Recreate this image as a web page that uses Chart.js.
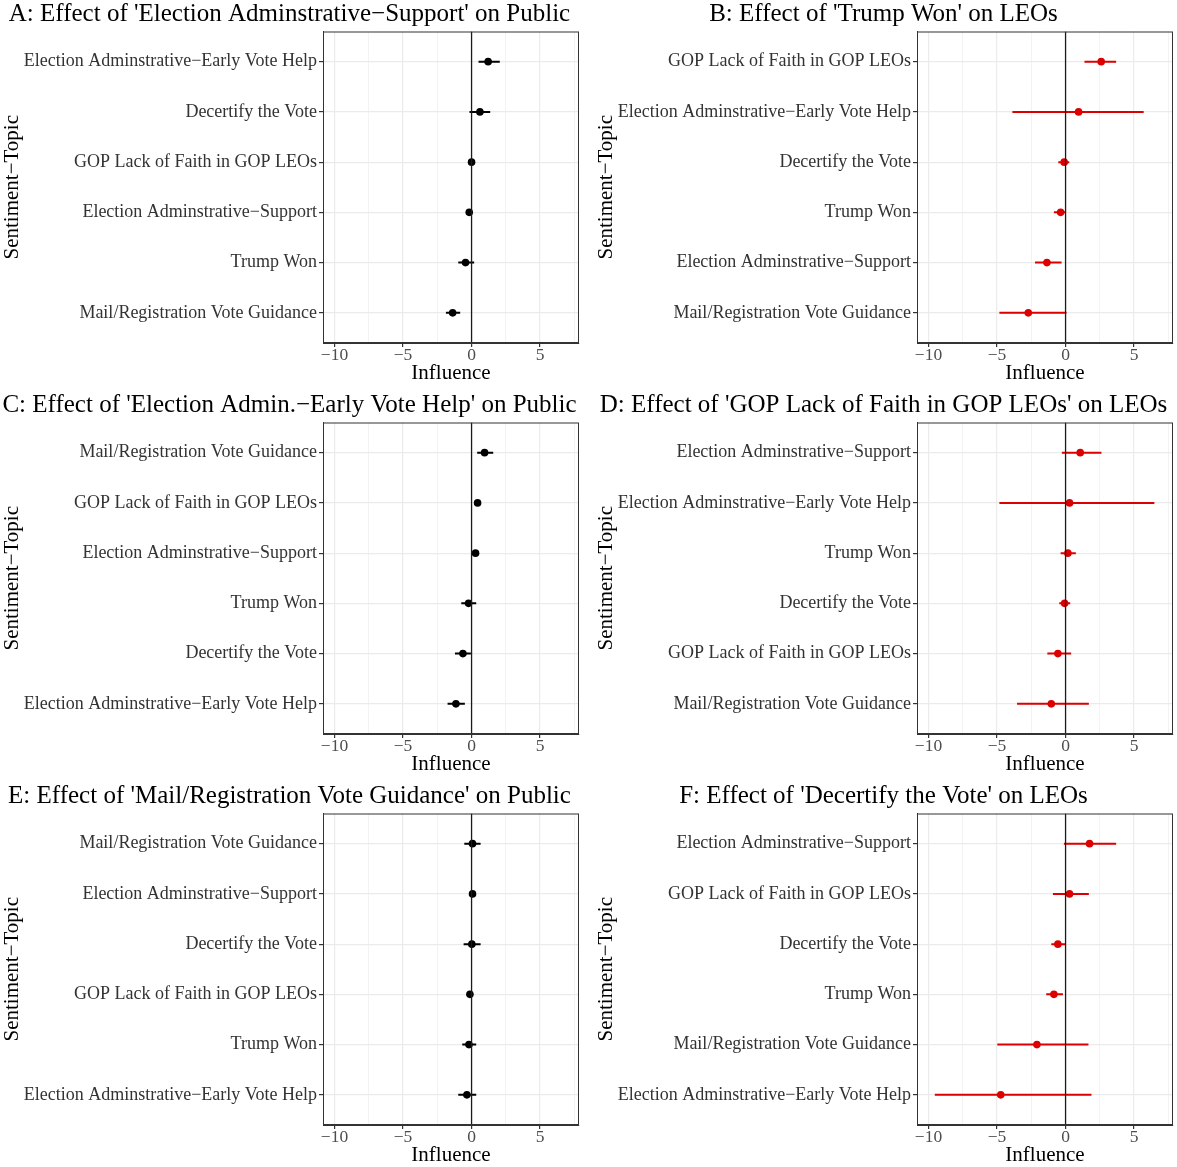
<!DOCTYPE html>
<html>
<head>
<meta charset="utf-8">
<script src="https://cdn.jsdelivr.net/npm/chart.js@4.4.1/dist/chart.umd.min.js"></script>
<style>
  body { margin: 0; background: #fff; }
  #wrap { position: relative; width: 1177px; height: 1167px; }
  #wrap canvas { position: absolute; }
</style>
</head>
<body>
<div id="wrap">
  <canvas id="panelA" width="583" height="391" style="left:0;top:0"></canvas>
  <canvas id="panelB" width="583" height="391" style="left:594px;top:0"></canvas>
  <canvas id="panelC" width="583" height="391" style="left:0;top:391px"></canvas>
  <canvas id="panelD" width="583" height="391" style="left:594px;top:391px"></canvas>
  <canvas id="panelE" width="583" height="391" style="left:0;top:782px"></canvas>
  <canvas id="panelF" width="583" height="391" style="left:594px;top:782px"></canvas>
</div>
<script>
// x axis
const xTicks = [-10, -7.5, -5, -2.5, 0, 2.5, 5, 7.5];
const xMin = -10.84, xMax = 7.84;

// A: public, Election Adminstrative-Support
const titleA = "A: Effect of 'Election Adminstrative\u2212Support' on Public";
const labelsA = ["Election Adminstrative\u2212Early Vote Help", "Decertify the Vote", "GOP Lack of Faith in GOP LEOs", "Election Adminstrative\u2212Support", "Trump Won", "Mail/Registration Vote Guidance"];
const estA = [1.21, 0.61, 0.0, -0.17, -0.44, -1.38];
const lowA = [0.51, -0.15, -0.2, -0.3, -0.97, -1.87];
const highA = [2.06, 1.36, 0.18, 0.0, 0.19, -0.83];

// B: LEOs, Trump Won
const titleB = "B: Effect of 'Trump Won' on LEOs";
const labelsB = ["GOP Lack of Faith in GOP LEOs", "Election Adminstrative\u2212Early Vote Help", "Decertify the Vote", "Trump Won", "Election Adminstrative\u2212Support", "Mail/Registration Vote Guidance"];
const estB = [2.6, 0.95, -0.1, -0.36, -1.36, -2.72];
const lowB = [1.38, -3.88, -0.53, -0.85, -2.23, -4.83];
const highB = [3.69, 5.7, 0.27, 0.0, -0.29, 0.07];

// C: public, Early Vote Help
const titleC = "C: Effect of 'Election Admin.\u2212Early Vote Help' on Public";
const labelsC = ["Mail/Registration Vote Guidance", "GOP Lack of Faith in GOP LEOs", "Election Adminstrative\u2212Support", "Trump Won", "Decertify the Vote", "Election Adminstrative\u2212Early Vote Help"];
const estC = [0.95, 0.44, 0.29, -0.22, -0.63, -1.14];
const lowC = [0.41, 0.2, 0.15, -0.75, -1.21, -1.75];
const highC = [1.58, 0.64, 0.43, 0.34, -0.05, -0.49];

// D: LEOs, GOP Lack of Faith
const titleD = "D: Effect of 'GOP Lack of Faith in GOP LEOs' on LEOs";
const labelsD = ["Election Adminstrative\u2212Support", "Election Adminstrative\u2212Early Vote Help", "Trump Won", "Decertify the Vote", "GOP Lack of Faith in GOP LEOs", "Mail/Registration Vote Guidance"];
const estD = [1.07, 0.29, 0.17, -0.07, -0.56, -1.04];
const lowD = [-0.27, -4.83, -0.36, -0.46, -1.33, -3.54];
const highD = [2.62, 6.48, 0.75, 0.34, 0.41, 1.7];

// E: public, Mail/Registration
const titleE = "E: Effect of 'Mail/Registration Vote Guidance' on Public";
const labelsE = ["Mail/Registration Vote Guidance", "Election Adminstrative\u2212Support", "Decertify the Vote", "GOP Lack of Faith in GOP LEOs", "Trump Won", "Election Adminstrative\u2212Early Vote Help"];
const estE = [0.07, 0.07, 0.02, -0.12, -0.19, -0.34];
const lowE = [-0.53, -0.08, -0.58, -0.27, -0.68, -0.97];
const highE = [0.66, 0.22, 0.66, 0.03, 0.34, 0.34];

// F: LEOs, Decertify
const titleF = "F: Effect of 'Decertify the Vote' on LEOs";
const labelsF = ["Election Adminstrative\u2212Support", "GOP Lack of Faith in GOP LEOs", "Decertify the Vote", "Trump Won", "Mail/Registration Vote Guidance", "Election Adminstrative\u2212Early Vote Help"];
const estF = [1.75, 0.29, -0.56, -0.85, -2.09, -4.73];
const lowF = [-0.12, -0.92, -1.04, -1.41, -4.98, -9.54];
const highF = [3.69, 1.7, 0.0, -0.19, 1.67, 1.89];

const serif = "'Liberation Serif', 'Times New Roman', serif";

// panel frame (ggplot theme_bw border)
const framePlugin = {
  id: 'frame',
  afterDraw(chart) {
    const a = chart.chartArea, ctx = chart.ctx;
    ctx.save();
    ctx.strokeStyle = '#333';
    ctx.lineWidth = 1;
    ctx.strokeRect(a.left + 0.5, a.top + 0.5, a.right - a.left - 1, a.bottom - a.top - 1);
    ctx.restore();
  }
};

function makePanel(id, title, labels, est, low, high, color) {
  const datasets = [];
  // vertical line at 0
  datasets.push({
    data: [{x: 0, y: 0.4}, {x: 0, y: 6.6}],
    showLine: true, borderColor: '#1a1a1a', borderWidth: 1.3, pointRadius: 0
  });
  // interval lines
  labels.forEach((l, i) => {
    datasets.push({
      data: [{x: low[i], y: i + 1}, {x: high[i], y: i + 1}],
      showLine: true, borderColor: color, borderWidth: 2, pointRadius: 0
    });
  });
  // point estimates
  datasets.push({
    data: est.map((v, i) => ({x: v, y: i + 1})),
    pointRadius: 3.8, backgroundColor: color, borderWidth: 0
  });

  new Chart(document.getElementById(id), {
    type: 'scatter',
    data: { datasets },
    options: {
      responsive: false,
      animation: false,
      layout: { padding: { left: 0, right: 4, top: 0, bottom: 0 } },
      plugins: {
        legend: { display: false },
        tooltip: { enabled: false },
        title: {
          display: true, text: title, align: 'center', color: '#000',
          font: { family: serif, size: 25, weight: 'normal', lineHeight: 1.1 },
          padding: { top: 1, bottom: 3 }
        }
      },
      scales: {
        x: {
          type: 'linear', min: xMin, max: xMax,
          afterBuildTicks: s => { s.ticks = xTicks.map(v => ({value: v})); },
          ticks: {
            autoSkip: false, maxRotation: 0, color: '#4D4D4D', padding: 0,
            font: { family: serif, size: 17.5, lineHeight: 1 },
            callback: v => (v % 5 === 0 ? String(v).replace('-', '\u2212') : '')
          },
          grid: {
            color: '#EBEBEB',
            lineWidth: c => (c.tick && c.tick.value % 5 === 0 ? 1.2 : 0.6),
            tickColor: c => (c.tick && c.tick.value % 5 === 0 ? '#333' : 'rgba(0,0,0,0)'),
            tickLength: 4
          },
          border: { display: true, color: '#333', width: 1 },
          title: {
            display: true, text: 'Influence', color: '#000',
            font: { family: serif, size: 21, lineHeight: 1 }, padding: { top: -2, bottom: 7.5 }
          }
        },
        y: {
          type: 'linear', reverse: true, min: 0.4, max: 6.6,
          afterBuildTicks: s => { s.ticks = labels.map((l, i) => ({value: i + 1})); },
          afterFit: s => { s.width = 323; },
          ticks: {
            autoSkip: false, color: '#333', padding: 2,
            font: { family: serif, size: 18 },
            callback: v => labels[v - 1]
          },
          grid: { color: '#EBEBEB', lineWidth: 1.2, tickColor: '#333', tickLength: 4 },
          border: { display: true, color: '#333', width: 1 },
          title: {
            display: true, text: 'Sentiment\u2212Topic', color: '#000',
            font: { family: serif, size: 21, lineHeight: 1 }, padding: { top: 1.5, bottom: 0 }
          }
        }
      }
    },
    plugins: [framePlugin]
  });
}

makePanel('panelA', titleA, labelsA, estA, lowA, highA, '#000');
makePanel('panelB', titleB, labelsB, estB, lowB, highB, '#DD0000');
makePanel('panelC', titleC, labelsC, estC, lowC, highC, '#000');
makePanel('panelD', titleD, labelsD, estD, lowD, highD, '#DD0000');
makePanel('panelE', titleE, labelsE, estE, lowE, highE, '#000');
makePanel('panelF', titleF, labelsF, estF, lowF, highF, '#DD0000');
</script>
</body>
</html>
